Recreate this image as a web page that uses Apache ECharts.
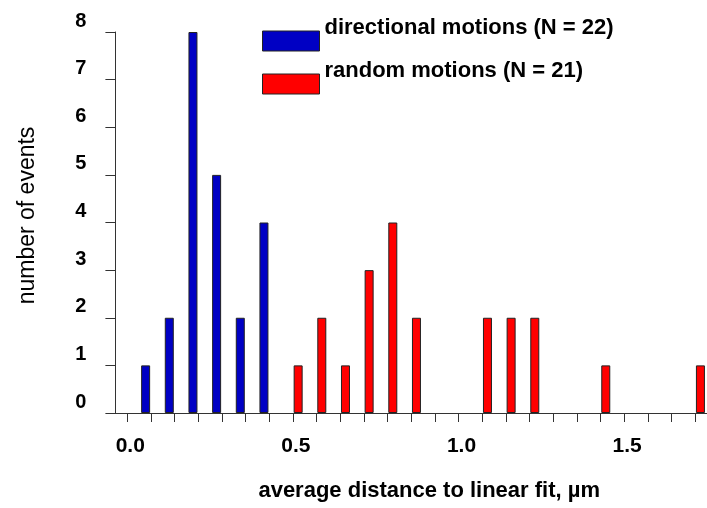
<!DOCTYPE html>
<html>
<head>
<meta charset="utf-8">
<script src="https://cdn.jsdelivr.net/npm/echarts@6/dist/echarts.min.js"></script>
<style>html,body{margin:0;padding:0;background:#fff;}#chart{width:707px;height:508px;}</style>
</head>
<body>
<div id="chart"></div>
<script>
// Bin centres (µm), bin width 1/14 µm
const categories = ['0.000','0.071','0.143','0.214','0.286','0.357','0.429','0.500','0.571','0.643','0.714','0.786','0.857','0.929','1.000','1.071','1.143','1.214','1.286','1.357','1.429','1.500','1.571','1.643','1.714'];
const directional = [0,1,2,8,5,2,4,0,0,0,0,0,0,0,0,0,0,0,0,0,0,0,0,0,0];
const random      = [0,0,0,0,0,0,0,1,2,1,3,4,2,0,0,2,2,2,0,0,1,0,0,0,1];
const labelledCategories = ['0.000','0.500','1.000','1.500'];
const tickLabels = ['0.0','0.5','1.0','1.5'];
const yTicks = [0,1,2,3,4,5,6,7,8];
const seriesNames = ['directional motions (N = 22)','random motions (N = 21)'];

const FONT = "'Liberation Sans', Arial, Helvetica, sans-serif";
const chart = echarts.init(document.getElementById('chart'), null, {renderer:'canvas'});
const axisColor = '#333';
const toBars = arr => arr.map(v => v === 0 ? '-' : v);

chart.setOption({
  animation: false,
  backgroundColor: '#fff',
  grid: {left: 115.4, right: -3.4, top: 32, bottom: 91, containLabel: false},
  legend: {
    orient: 'vertical', left: 262, top: 17, padding: 0, itemGap: -5,
    itemWidth: 57, itemHeight: 20, icon: 'rect',
    data: seriesNames,
    itemStyle: {borderColor: '#222', borderWidth: 1},
    formatter: name => '{t|' + name + '}',
    textStyle: {
      fontFamily: FONT, fontWeight: 'bold', fontSize: 22, color: '#000',
      rich: {t: {fontFamily: FONT, fontWeight: 'bold', fontSize: 22, color: '#000', lineHeight: 24, padding: [0,0,26,0]}}
    }
  },
  xAxis: {
    type: 'category', data: categories, boundaryGap: true,
    name: 'average distance to linear fit, µm', nameLocation: 'middle', nameGap: 66,
    nameTextStyle: {fontFamily: FONT, fontWeight: 'bold', fontSize: 22, color: '#000', lineHeight: 24, padding: [0,0,0,36]},
    axisLine: {show: true, lineStyle: {color: axisColor, width: 1}},
    axisTick: {show: true, interval: 0, alignWithLabel: true, length: 9, lineStyle: {color: axisColor}},
    axisLabel: {
      interval: 0, margin: 22, fontFamily: FONT, fontWeight: 'bold', fontSize: 21, color: '#000', lineHeight: 22,
      padding: [0,0,0,6],
      formatter: v => { const i = labelledCategories.indexOf(v); return i >= 0 ? tickLabels[i] : ''; }
    },
    splitLine: {show: false}
  },
  yAxis: {
    type: 'value', min: yTicks[0], max: yTicks[yTicks.length-1], interval: 1,
    name: 'number of events', nameLocation: 'middle', nameGap: 76,
    nameTextStyle: {fontFamily: FONT, fontSize: 23, color: '#000', lineHeight: 24, padding: [0,0,0,14]},
    axisLine: {show: true, lineStyle: {color: axisColor, width: 1}},
    axisTick: {show: true, length: 10, lineStyle: {color: axisColor}},
    axisLabel: {margin: 29, fontFamily: FONT, fontWeight: 'bold', fontSize: 20, color: '#000', lineHeight: 22,
      verticalAlign: 'bottom', padding: [0,0,0,0]},
    splitLine: {show: false}
  },
  series: [
    {name: seriesNames[0], type: 'bar', data: toBars(directional), barWidth: 9, barGap: '17%',
     itemStyle: {color: '#0000c4', borderColor: '#222', borderWidth: 1}},
    {name: seriesNames[1], type: 'bar', data: toBars(random), barWidth: 9, barGap: '17%',
     itemStyle: {color: '#ff0000', borderColor: '#222', borderWidth: 1}}
  ]
});
</script>
</body>
</html>
